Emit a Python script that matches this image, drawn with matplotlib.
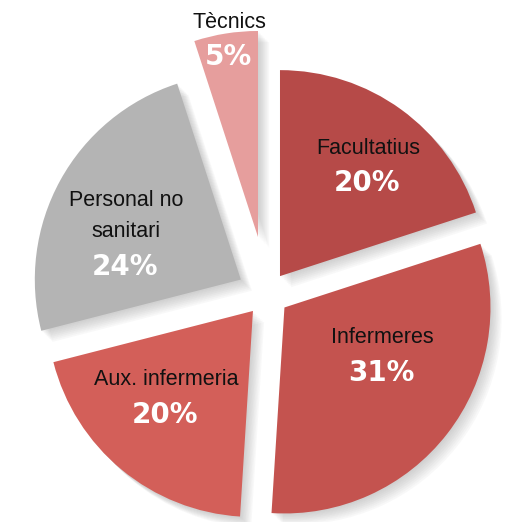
import numpy as np
import matplotlib
matplotlib.use("Agg")
import matplotlib.pyplot as plt
import matplotlib.patheffects as pe

# Data (clockwise from 12 o'clock)
categories = ["Facultatius", "Infermeres", "Aux. infermeria", "Personal no\nsanitari", "Tècnics"]
shares = [20, 31, 20, 24, 5]
pct_labels = ["20%", "31%", "20%", "24%", "5%"]

colors = ["#b64a48", "#c4534f", "#d35f59", "#b4b4b4", "#e69e9d"]
explode = [0.107, 0.107, 0.107, 0.145, 0.28]

fig = plt.figure(figsize=(5.05, 5.22), dpi=100)
ax = fig.add_axes([0, 0, 1, 1])

wedges, _ = ax.pie(shares, colors=colors, explode=explode, startangle=90,
                   counterclock=False, radius=1,
                   wedgeprops=dict(linewidth=0))

# soft drop shadow towards lower right
shadow = [pe.SimplePatchShadow(offset=(k, -k), shadow_rgbFace="#707070", alpha=0.045)
          for k in range(1, 9)]
for w in wedges:
    w.set_path_effects(shadow + [pe.Normal()])

# where the percentage goes: (angle in degrees, distance from wedge tip)
anchors = [(47, 0.618), (-34.1, 0.567), (-130.2, 0.661), (173.8, 0.565), (99.3, 0.884)]

name_font = dict(family=["Liberation Sans", "DejaVu Sans"], fontsize=15.5, color="#111111")
pct_font = dict(family="DejaVu Sans", fontsize=20, fontweight="bold", color="white")

for w, name, pct, (ang, rf) in zip(wedges, categories, pct_labels, anchors):
    cx, cy = w.center
    x = cx + rf * np.cos(np.radians(ang))
    y = cy + rf * np.sin(np.radians(ang))
    nlines = name.count("\n") + 1
    ax.text(x, y, pct, ha="center", va="center", **pct_font)
    ax.text(x + 0.005, y + 0.17 + (nlines - 1) * 0.078, name, ha="center", va="center",
            linespacing=1.6, **name_font)

ax.set_xlim(-1.296, 1.155)
ax.set_ylim(-1.107, 1.427)
ax.set_aspect("auto")
ax.axis("off")

fig.savefig("out.png", dpi=100, facecolor="white")
